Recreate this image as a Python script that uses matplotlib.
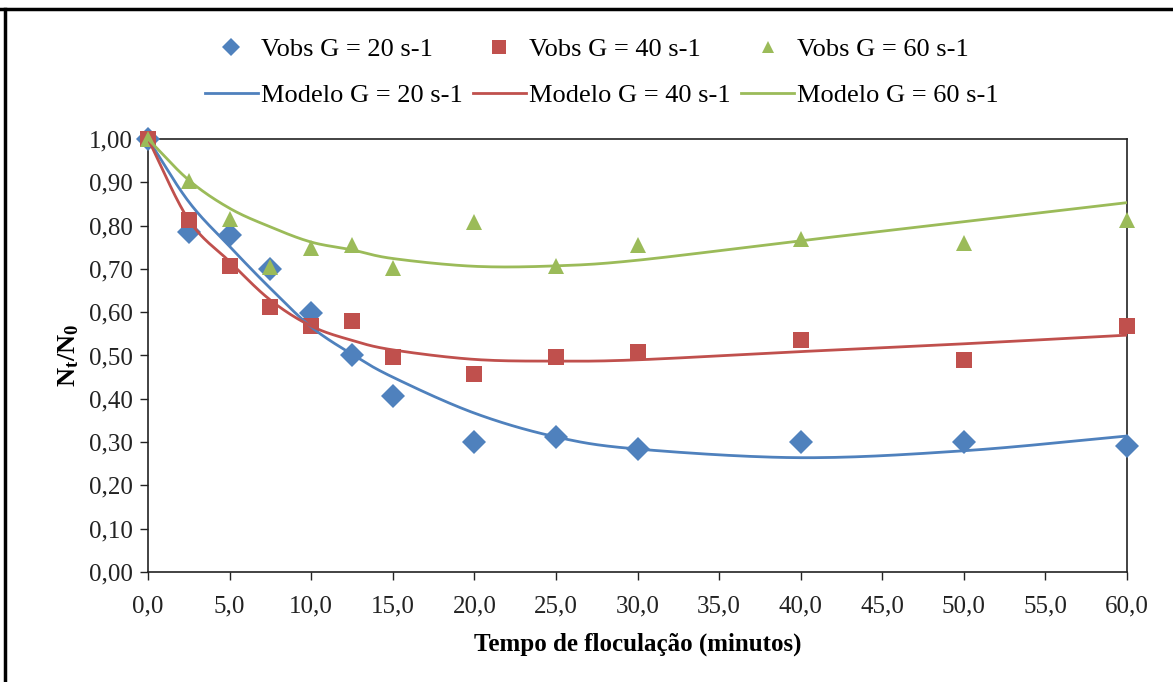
import numpy as np
import matplotlib
matplotlib.use('Agg')
import matplotlib.pyplot as plt
from matplotlib.lines import Line2D
from matplotlib.ticker import FuncFormatter, MultipleLocator

plt.rcParams['font.family'] = ['Liberation Serif', 'DejaVu Serif']
plt.rcParams['mathtext.fontset'] = 'custom'
plt.rcParams['mathtext.rm'] = 'Liberation Serif'
plt.rcParams['mathtext.bf'] = 'Liberation Serif:bold'
plt.rcParams['mathtext.it'] = 'Liberation Serif:italic'

tempo = [0, 2.5, 5, 7.5, 10, 12.5, 15, 20, 25, 30, 40, 50, 60]

vobs_20 = [1.00, 0.785, 0.778, 0.700, 0.598, 0.502, 0.406, 0.301, 0.312, 0.285, 0.300, 0.300, 0.292]
vobs_40 = [1.00, 0.813, 0.706, 0.613, 0.567, 0.579, 0.496, 0.457, 0.496, 0.508, 0.536, 0.490, 0.567]
vobs_60 = [1.00, 0.903, 0.815, 0.705, 0.748, 0.755, 0.702, 0.808, 0.707, 0.756, 0.768, 0.760, 0.814]

modelo_20 = [1.00, 0.855, 0.752, 0.655, 0.566, 0.503, 0.450, 0.367, 0.312, 0.284, 0.264, 0.280, 0.314]
modelo_40 = [1.00, 0.813, 0.717, 0.628, 0.568, 0.535, 0.513, 0.491, 0.487, 0.490, 0.509, 0.527, 0.547]
modelo_60 = [1.00, 0.905, 0.840, 0.797, 0.762, 0.744, 0.724, 0.706, 0.707, 0.720, 0.765, 0.809, 0.853]

labels_obs = ['Vobs G = 20 s-1', 'Vobs G = 40 s-1', 'Vobs G = 60 s-1']
labels_mod = ['Modelo G = 20 s-1', 'Modelo G = 40 s-1', 'Modelo G = 60 s-1']
cores = ['#4F81BD', '#C0504D', '#9BBB59']


def smooth(x, y, n=24):
    # Catmull-Rom, like Excel's smoothed line
    x = np.asarray(x, float)
    y = np.asarray(y, float)
    px = np.concatenate([[2 * x[0] - x[1]], x, [2 * x[-1] - x[-2]]])
    py = np.concatenate([[2 * y[0] - y[1]], y, [2 * y[-1] - y[-2]]])
    xs, ys = [], []
    t = np.linspace(0, 1, n, endpoint=False)
    for i in range(1, len(px) - 2):
        for p, out in ((px, xs), (py, ys)):
            p0, p1, p2, p3 = p[i - 1], p[i], p[i + 1], p[i + 2]
            c1 = p1 + (p2 - p0) / 6
            c2 = p2 - (p3 - p1) / 6
            out.extend((1 - t) ** 3 * p1 + 3 * (1 - t) ** 2 * t * c1
                       + 3 * (1 - t) * t ** 2 * c2 + t ** 3 * p2)
    xs.append(x[-1])
    ys.append(y[-1])
    return np.array(xs), np.array(ys)


fig = plt.figure(figsize=(11.73, 6.82), dpi=100)
ax = fig.add_axes([148 / 1173, 1 - 572 / 682, (1127 - 148) / 1173, (572 - 139) / 682])

markers = [('D', 12), ('s', 12), ('^', 11)]
obs = [vobs_20, vobs_40, vobs_60]
mods = [modelo_20, modelo_40, modelo_60]
h_obs, h_mod = [], []
for vals, (m, ms), c, lab in zip(obs, markers, cores, labels_obs):
    h, = ax.plot(tempo, vals, linestyle='none', marker=m, markersize=ms,
                 color=c, markeredgewidth=0, label=lab, clip_on=False, zorder=3)
    h_obs.append(h)
for vals, c, lab in zip(mods, cores, labels_mod):
    sx, sy = smooth(tempo, vals)
    h, = ax.plot(sx, sy, color=c, linewidth=2.0, label=lab, zorder=4)
    h_mod.append(h)

handles = []
for h1, h2 in zip(h_obs, h_mod):
    handles += [h1, h2]

ax.set_xlim(0, 60)
ax.set_ylim(0, 1.0)
ax.xaxis.set_major_locator(MultipleLocator(5))
ax.yaxis.set_major_locator(MultipleLocator(0.1))
ax.xaxis.set_major_formatter(FuncFormatter(lambda v, p: f'{v:.1f}'.replace('.', ',')))
ax.yaxis.set_major_formatter(FuncFormatter(lambda v, p: f'{v:.2f}'.replace('.', ',')))
ax.tick_params(direction='out', length=6, width=1, labelsize=18, colors='#222222')
ax.tick_params(axis='x', pad=11)
ax.tick_params(axis='y', pad=5)
for s in ax.spines.values():
    s.set_linewidth(1.2)
    s.set_color('#222222')

ax.set_xlabel('Tempo de floculação (minutos)', fontsize=18, fontweight='bold', labelpad=11)
ax.set_ylabel(r'$\mathbf{N_t/N_0}$', fontsize=19, labelpad=6)

fig.legend(handles, [h.get_label() for h in handles], ncol=3, loc='center',
           bbox_to_anchor=(0.513, 0.894), frameon=False, fontsize=19,
           handlelength=2.0, handletextpad=0.12, columnspacing=0.4,
           labelspacing=0.85, markerscale=0.8)

fig.add_artist(Line2D([0, 1], [1 - 9 / 682, 1 - 9 / 682], color='black', linewidth=2.5))
fig.add_artist(Line2D([5 / 1173, 5 / 1173], [0, 1 - 9 / 682], color='black', linewidth=2.5))

fig.savefig('out.png', dpi=100)
